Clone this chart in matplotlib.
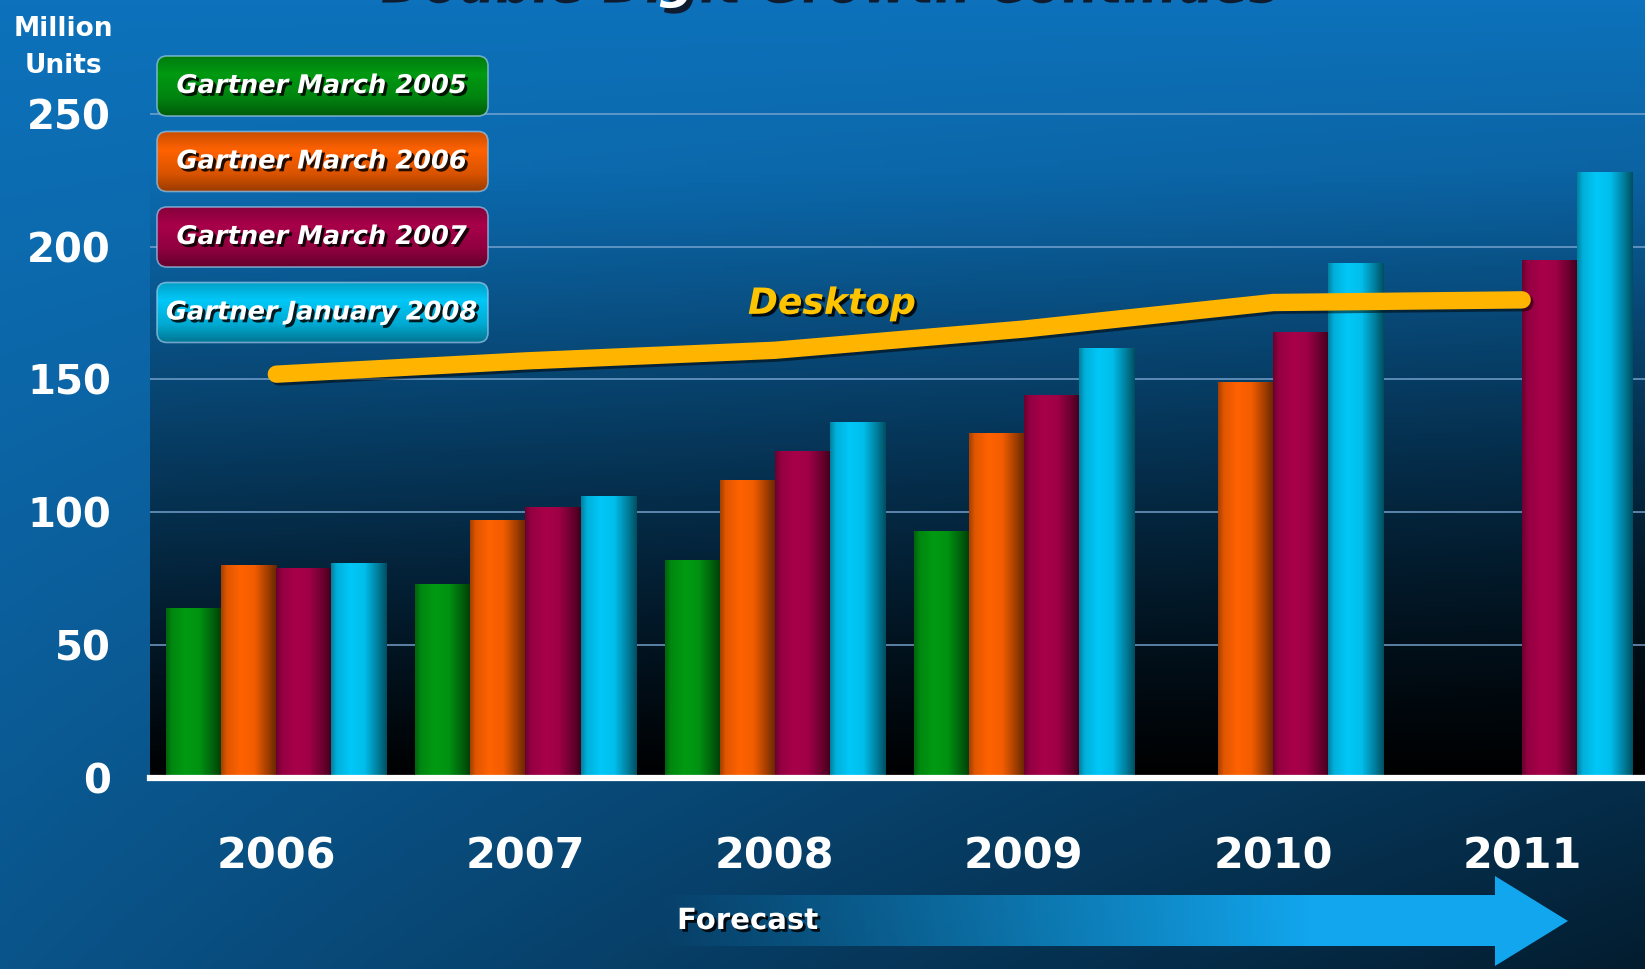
import numpy as np
import matplotlib.pyplot as plt
import matplotlib.patheffects as pe
from matplotlib.colors import to_rgb
from matplotlib.patches import FancyBboxPatch, Polygon

years = ["2006", "2007", "2008", "2009", "2010", "2011"]
series_names = ["Gartner March 2005", "Gartner March 2006",
                "Gartner March 2007", "Gartner January 2008"]
march_2005 = [64, 73, 82, 93, np.nan, np.nan]
march_2006 = [80, 97, 112, 130, 149, np.nan]
march_2007 = [79, 102, 123, 144, 168, 195]
january_2008 = [81, 106, 134, 162, 194, 228]
desktop = [152, 157, 161, 169, 179, 180]
y_ticks = [0, 50, 100, 150, 200, 250]
series_colors = ["#009a12", "#ff6200", "#a8004a", "#00c8f8"]

W, H = 1645, 969
shadow = [pe.withSimplePatchShadow(offset=(2, -2), shadow_rgbFace="black", alpha=0.85)]

fig = plt.figure(figsize=(W / 100, H / 100), dpi=100)

# slide background
bg = fig.add_axes([0, 0, 1, 1], zorder=0)
u, v = np.meshgrid(np.linspace(0, 1, 400), np.linspace(0, 1, 240))
top_blue = np.array(to_rgb("#0d72bb"))
shade = 1 - 0.75 * v * (0.35 + 0.65 * u)
bg.imshow(shade[..., None] * top_blue, extent=(0, 1, 0, 1), aspect="auto")
bg.axis("off")

# chart
ax = fig.add_axes([150 / W, 0.1976, 1 - 150 / W, 0.8024], zorder=1)
ax.patch.set_visible(False)
xlim = (-0.507, 5.493)
ylim = (0, 293)
yy = np.linspace(ylim[1], 0, 300)
dark = np.zeros((300, 1, 4))
dark[..., 3] = (np.clip(1 - yy / 230, 0, 1) ** 1.2)[:, None]
ax.imshow(dark, extent=(*xlim, *ylim), aspect="auto", zorder=0)

x = np.arange(len(years))
width = 0.221
shade_bar = np.interp(np.linspace(0, 1, 64), [0, 0.1, 0.35, 0.6, 0.85, 1],
                      [0.65, 0.88, 1.0, 0.95, 0.62, 0.4])
all_series = [march_2005, march_2006, march_2007, january_2008]
for k, (vals, name, col) in enumerate(zip(all_series, series_names, series_colors)):
    bars = ax.bar(x + (k - 1.5) * width, vals, width, color=col, zorder=1.5, label=name)
    base = np.array(to_rgb(col))
    for r in bars:
        h = r.get_height()
        if not np.isfinite(h):
            continue
        ax.imshow((shade_bar[:, None] * base)[None],
                  extent=(r.get_x(), r.get_x() + r.get_width(), 0, h),
                  aspect="auto", zorder=2, interpolation="bilinear")

ax.plot(x, desktop, color="#ffb400", lw=12.5, solid_capstyle="round", zorder=5,
        path_effects=[pe.SimpleLineShadow(offset=(2, -2), shadow_color="black", alpha=0.5),
                      pe.Normal()])
ax.text(2.23, 178.5, "Desktop", color="#ffc400", fontsize=26, fontweight="bold",
        style="italic", ha="center", va="center", zorder=6, path_effects=shadow)

ax.set_xlim(*xlim)
ax.set_ylim(*ylim)
ax.set_yticks(y_ticks)
ax.set_xticks(x, years)
ax.tick_params(axis="both", length=0, labelcolor="white")
ax.tick_params(axis="y", pad=28, labelsize=29)
ax.tick_params(axis="x", pad=42, labelsize=31)
for lab in ax.get_xticklabels() + ax.get_yticklabels():
    lab.set_fontweight("bold")
ax.yaxis.grid(True, color="#7aa6d2", lw=1.3, alpha=0.8)
ax.set_axisbelow(True)
for s in ["top", "right", "left"]:
    ax.spines[s].set_visible(False)
ax.spines["bottom"].set_color("white")
ax.spines["bottom"].set_linewidth(4.5)

# overlay in pixel coords
ov = fig.add_axes([0, 0, 1, 1], zorder=3)
ov.patch.set_visible(False)

# slide title, mostly cut off at the top as in the original
ov.text(826, -3, "Double Digit Growth Continues", ha="center", va="baseline",
        fontsize=37, fontweight="bold", style="italic", color="white",
        path_effects=[pe.withSimplePatchShadow(offset=(3, -4), shadow_rgbFace="#101828",
                                               alpha=0.95)])
ov.text(63, 47, "Million\nUnits", ha="center", va="center", fontsize=19,
        fontweight="bold", color="white", linespacing=1.55)

# legend boxes
vshade = np.interp(np.linspace(0, 1, 64), [0, 0.3, 0.7, 1], [0.8, 1.0, 0.85, 0.6])
for k, (name, col) in enumerate(zip(series_names, series_colors)):
    cy = 86 + 75.5 * k
    box = FancyBboxPatch((157, cy - 30), 331, 60, boxstyle="round,pad=0,rounding_size=10",
                         facecolor="none", edgecolor="#9cc8e8", lw=1.2, alpha=0.7, zorder=2)
    ov.add_patch(box)
    img = ov.imshow((vshade[:, None] * np.array(to_rgb(col)))[:, None],
                    extent=(157, 488, cy + 30, cy - 30), aspect="auto", zorder=1)
    img.set_clip_path(box)
    ov.text(322, cy, name, ha="center", va="center", fontsize=18.5, fontweight="bold",
            style="italic", color="white", zorder=3, path_effects=shadow)

# forecast arrow
arrow = Polygon([(656, 895), (1495, 895), (1495, 876), (1568, 921), (1495, 966),
                 (1495, 946), (656, 946)], closed=True, facecolor="none", edgecolor="none")
ov.add_patch(arrow)
grad = np.zeros((1, 256, 4))
grad[..., :3] = to_rgb("#12a6ee")
grad[..., 3] = np.clip(np.linspace(0, 1.4, 256), 0, 1)
aimg = ov.imshow(grad, extent=(656, 1568, 966, 876), aspect="auto", zorder=1)
aimg.set_clip_path(arrow)
ov.text(677, 921, "Forecast", ha="left", va="center", fontsize=21, fontweight="bold",
        color="white", zorder=3, path_effects=shadow)

ov.set_xlim(0, W)
ov.set_ylim(H, 0)
ov.axis("off")

fig.savefig("out.png", dpi=100)
